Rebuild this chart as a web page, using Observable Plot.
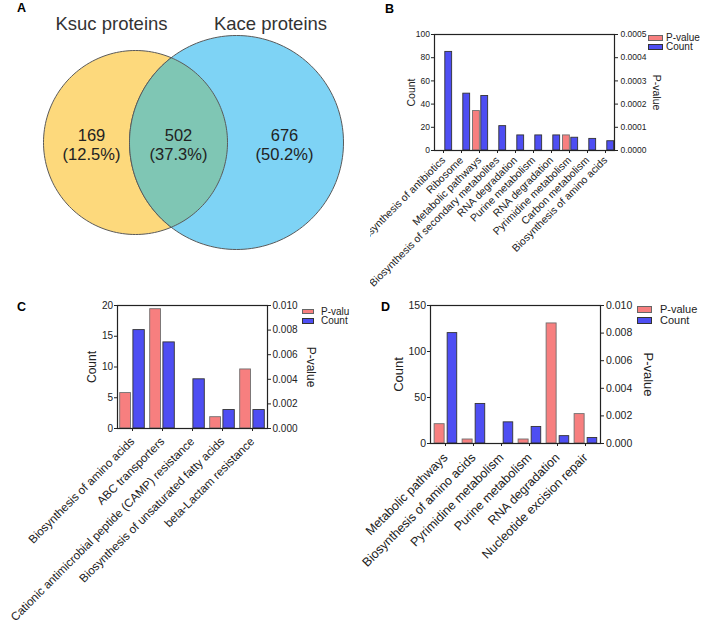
<!DOCTYPE html>
<html><head><meta charset="utf-8">
<script src="https://cdn.jsdelivr.net/npm/d3@7"></script>
<script src="https://cdn.jsdelivr.net/npm/@observablehq/plot@0.6"></script>
<style>
body{margin:0;background:#fff;font-family:"Liberation Sans",Arial,Helvetica,sans-serif;}
#root{position:relative;width:703px;height:625px;overflow:hidden;background:#fff;}
.panel{position:absolute;overflow:hidden;}
.panel svg{display:block;}
.letter{position:absolute;font-weight:bold;font-size:12.5px;line-height:1;color:#000;}
.legend{position:absolute;color:#222;line-height:1;}
.legend .row{position:absolute;left:0;height:10px;display:flex;align-items:center;white-space:nowrap;}
.legend .sw{display:inline-block;box-sizing:border-box;border:1px solid #666;}
</style></head><body><div id="root"></div>
<script>
// ---------------- DATA ----------------
const vennSets = ["Ksuc proteins", "Kace proteins"];
const vennCounts = [169, 502, 676];
const vennPercents = ["12.5%", "37.3%", "50.2%"];

const bCategories = ["Biosynthesis of antibiotics", "Ribosome", "Metabolic pathways",
  "Biosynthesis of secondary metabolites", "RNA degradation", "Purine metabolism",
  "RNA degradation", "Pyrimidine metabolism", "Carbon metabolism", "Biosynthesis of amino acids"];
const bCount = [85, 49, 47, 21, 13, 13, 13, 11, 10, 8];
const bPValue = [0, 0, 0.00017, 0, 0, 0, 0, 0.000065, 0, 0];
const bLegend = ["P-value", "Count"];

const cCategories = ["Biosynthesis of amino acids", "ABC transporters",
  "Cationic antimicrobial peptide (CAMP) resistance", "Biosynthesis of unsaturated fatty acids",
  "beta-Lactam resistance"];
const cCount = [16, 14, 8, 3, 3];
const cPValue = [0.00288, 0.0097, 0, 0.00092, 0.0048];
const cLegend = ["P-valu", "Count"];

const dCategories = ["Metabolic pathways", "Biosynthesis of amino acids", "Pyrimidine metabolism",
  "Purine metabolism", "RNA degradation", "Nucleotide excision repair"];
const dCount = [120, 43, 23, 18, 8, 6];
const dPValue = [0.0014, 0.00029, 0, 0.00029, 0.0087, 0.00213];
const dLegend = ["P-value", "Count"];

const countTitle = "Count";
const pTitle = "P-value";
const panelLetters = ["A", "B", "C", "D"];

// ---------------- STYLE / LAYOUT ----------------
const FONT = '"Liberation Sans", Arial, Helvetica, sans-serif';
const RED = "#F77F7F", BLUE = "#4E4EF3";
const YELLOW = "#FDD97C", SKY = "#7ED3F5", TEAL = "#7FC6B4";
const root = document.getElementById("root");

function mount(el, left, top, width, height) {
  const div = document.createElement("div");
  div.className = "panel";
  Object.assign(div.style, {left: left + "px", top: top + "px", width: width + "px", height: height + "px"});
  div.appendChild(el);
  root.appendChild(div);
}

function letter(txt, left, top) {
  const d = document.createElement("div");
  d.className = "letter";
  d.style.left = left + "px"; d.style.top = top + "px";
  d.textContent = txt;
  root.appendChild(d);
}

function legend(left, firstCenter, rowGap, swW, swH, gap, fontSize, labels) {
  const div = document.createElement("div");
  div.className = "legend";
  div.style.left = left + "px"; div.style.top = firstCenter + "px"; div.style.fontSize = fontSize + "px";
  labels.forEach((lab, j) => {
    const row = document.createElement("div");
    row.className = "row";
    row.style.top = (j * rowGap - 5) + "px";
    const sw = document.createElement("span");
    sw.className = "sw";
    sw.style.width = swW + "px"; sw.style.height = swH + "px";
    sw.style.background = j === 0 ? RED : BLUE;
    sw.style.marginRight = gap + "px";
    if (j === 1) sw.style.borderColor = "#333";
    const t = document.createElement("span");
    t.textContent = lab;
    row.append(sw, t);
    div.appendChild(row);
  });
  root.appendChild(div);
}

// ---------------- VENN (A) ----------------
const VL = {width: 370, height: 290,
  c1: {x: 135, y: 142, r: 92}, c2: {x: 236, y: 142, r: 107},
  titleX: [111, 270], titleY: 24, labelX: [91, 178, 284], labelY: 144};

function arc(c, a0, a1, steps) {
  const pts = [];
  for (let s = 0; s <= steps; s++) {
    const a = a0 + (a1 - a0) * s / steps;
    pts.push({x: c.x + c.r * Math.cos(a), y: c.y + c.r * Math.sin(a)});
  }
  return pts;
}
const dist = VL.c2.x - VL.c1.x;
const aa = (dist * dist + VL.c1.r ** 2 - VL.c2.r ** 2) / (2 * dist);
const t1 = Math.acos(aa / VL.c1.r);
const t2 = Math.acos((dist - aa) / VL.c2.r);
const circle1 = arc(VL.c1, 0, 2 * Math.PI, 180);
const circle2 = arc(VL.c2, 0, 2 * Math.PI, 180);
const lens = arc(VL.c1, -t1, t1, 90).concat(arc(VL.c2, Math.PI - t2, Math.PI + t2, 90));

const vennLabels = vennCounts.map((c, i) => ({text: `${c}\n(${vennPercents[i]})`, i}));

const venn = Plot.plot({
  width: VL.width, height: VL.height, margin: 0,
  style: {fontFamily: FONT, background: "transparent"},
  x: {domain: [0, VL.width], range: [0, VL.width], axis: null},
  y: {domain: [0, VL.height], range: [0, VL.height], axis: null},
  marks: [
    Plot.line(circle1, {x: "x", y: "y", curve: "linear-closed", fill: YELLOW, stroke: "#5a5a5a", strokeWidth: 1}),
    Plot.line(circle2, {x: "x", y: "y", curve: "linear-closed", fill: SKY, stroke: "#5a5a5a", strokeWidth: 1}),
    Plot.line(lens, {x: "x", y: "y", curve: "linear-closed", fill: TEAL, stroke: "#5a5a5a", strokeWidth: 1}),
    Plot.text(vennSets, {x: (d, i) => VL.titleX[i], y: () => VL.titleY, text: d => d, fontSize: 18.5, fill: "#333"}),
    Plot.text(vennLabels, {x: d => VL.labelX[d.i], y: () => VL.labelY, text: "text", fontSize: 16.5, lineHeight: 1.15, fill: "#222"})
  ]
});
mount(venn, 0, 0, VL.width, VL.height);

// ---------------- BAR PANELS ----------------
function barPanel(cfg) {
  const n = cfg.categories.length;
  const k = cfg.countMax / cfg.pMax;
  const data = cfg.categories.map((c, i) => ({i, count: cfg.count[i], p: cfg.pvalue[i]}));
  const bw = (cfg.width - cfg.ml - cfg.mr) / n;
  const countTicks = d3.range(0, cfg.countMax + 1e-9, cfg.countStep);
  const pTicks = d3.range(0, 6).map(j => j * cfg.pMax / 5);
  return Plot.plot({
    width: cfg.width, height: cfg.height,
    marginLeft: cfg.ml, marginRight: cfg.mr, marginTop: cfg.mt, marginBottom: cfg.mb,
    style: {fontFamily: FONT, fontSize: cfg.tickFont + "px", color: "#222", background: "transparent"},
    x: {type: "band", domain: d3.range(n), padding: 0, label: null},
    y: {domain: [0, cfg.countMax], nice: false, label: null},
    marks: [
      Plot.barY(data.filter(d => d.p > 0), {x: "i", y: d => d.p * k, fill: RED, stroke: "#707070", strokeWidth: 0.9,
        insetLeft: cfg.red[0] * bw, insetRight: (1 - cfg.red[1]) * bw}),
      Plot.barY(data, {x: "i", y: "count", fill: BLUE, stroke: "#333", strokeWidth: 0.9,
        insetLeft: cfg.blue[0] * bw, insetRight: (1 - cfg.blue[1]) * bw}),
      Plot.frame({stroke: "#222", strokeWidth: 1.2}),
      Plot.axisY({anchor: "left", ticks: countTicks, tickSize: 3, tickPadding: cfg.lpad, label: null, fontSize: cfg.tickFont}),
      Plot.axisY({anchor: "right", ticks: pTicks.map(p => p * k), tickFormat: v => (v / k).toFixed(cfg.pDec),
        tickSize: 3, tickPadding: cfg.rpad, label: null, fontSize: cfg.tickFont}),
      Plot.axisX({tickRotate: -45, tickFormat: i => cfg.categories[i], tickSize: 3, tickPadding: cfg.xpad,
        label: null, fontSize: cfg.xFont}),
      Plot.text([countTitle], {text: d => d, frameAnchor: "left", textAnchor: "middle", lineAnchor: "middle",
        dx: cfg.countDx, rotate: -90, fontSize: cfg.titleFont, fill: "#222"}),
      Plot.text([pTitle], {text: d => d, frameAnchor: "right", textAnchor: "middle", lineAnchor: "middle",
        dx: cfg.pDx, rotate: 90, fontSize: cfg.titleFont, fill: "#222"})
    ]
  });
}

// Panel B: frame x 434-614, y 34-150
const B = barPanel({categories: bCategories, count: bCount, pvalue: bPValue,
  countMax: 100, countStep: 20, pMax: 0.0005, pDec: 4,
  width: 333, height: 280, ml: 64, mr: 89, mt: 14, mb: 150,
  tickFont: 8.5, xFont: 10.5, titleFont: 10.5, lpad: 1.5, rpad: 3, xpad: 5,
  countDx: -22.5, pDx: 42, red: [0.14, 0.52], blue: [0.6, 0.98]});
mount(B, 370, 20, 333, 280);

// Panel C: frame x 117-267, y 305-428
const C = barPanel({categories: cCategories, count: cCount, pvalue: cPValue,
  countMax: 20, countStep: 5, pMax: 0.010, pDec: 3,
  width: 360, height: 335, ml: 117, mr: 93, mt: 15, mb: 197,
  tickFont: 10, xFont: 11.7, titleFont: 12, lpad: 1.5, rpad: 2, xpad: 8,
  countDx: -25, pDx: 43, red: [0.09, 0.45], blue: [0.53, 0.91]});
mount(C, 0, 290, 360, 335);

// Panel D: frame x 430-600, y 305-443
const D = barPanel({categories: dCategories, count: dCount, pvalue: dPValue,
  countMax: 150, countStep: 50, pMax: 0.010, pDec: 3,
  width: 343, height: 335, ml: 70, mr: 103, mt: 15, mb: 182,
  tickFont: 10.5, xFont: 12.5, titleFont: 13, lpad: 1.5, rpad: 2.5, xpad: 9,
  countDx: -32, pDx: 48, red: [0.11, 0.475], blue: [0.57, 0.92]});
mount(D, 360, 290, 343, 335);

// Legends
legend(648, 38, 9, 15, 6, 3, 10, bLegend);
legend(302, 311.5, 9.5, 12, 5.5, 7, 10, cLegend);
legend(637, 309.5, 11, 15, 7, 8, 11, dLegend);

// Panel letters
letter(panelLetters[0], 17, 1.5);
letter(panelLetters[1], 385, 2.5);
letter(panelLetters[2], 17, 300.5);
letter(panelLetters[3], 381, 300.5);
</script></body></html>
